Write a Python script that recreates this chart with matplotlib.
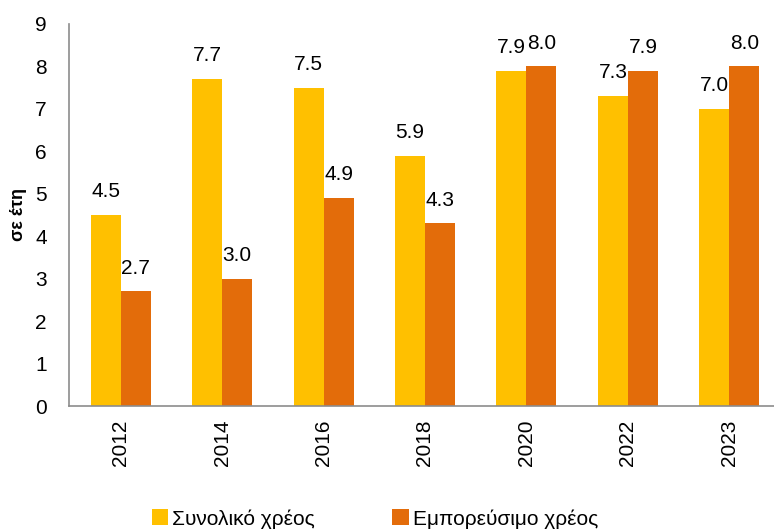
import numpy as np
import matplotlib
matplotlib.use('Agg')
import matplotlib.pyplot as plt

# --- datos ---
years = ['2012', '2014', '2016', '2018', '2020', '2022', '2023']
total_debt = [4.5, 7.7, 7.5, 5.9, 7.9, 7.3, 7.0]
marketable_debt = [2.7, 3.0, 4.9, 4.3, 8.0, 7.9, 8.0]
series_names = ['Συνολικό χρέος', 'Εμπορεύσιμο χρέος']

plt.rcParams['font.family'] = ['Liberation Sans Narrow', 'Liberation Sans', 'DejaVu Sans']

fig = plt.figure(figsize=(7.74, 5.32), dpi=100)
ax = fig.add_axes([0.089, 0.2368, 0.911, 0.7182])

x = np.arange(len(years))
w = 0.296
b1 = ax.bar(x - w / 2, total_debt, w, color='#FFC000', label=series_names[0])
b2 = ax.bar(x + w / 2, marketable_debt, w, color='#E36C0A', label=series_names[1])

for bars in (b1, b2):
    for rect in bars:
        h = rect.get_height()
        ax.annotate(f'{h:.1f}', (rect.get_x() + rect.get_width() / 2, h),
                    xytext=(0, 10), textcoords='offset points',
                    ha='center', va='bottom', fontsize=15)

ax.set_xlim(-0.51, 6.44)
ax.set_ylim(0, 9)
ax.set_yticks(range(0, 10))
ax.set_xticks(x)
ax.set_xticklabels(years, rotation=90, fontsize=15)
ax.tick_params(axis='y', labelsize=15, length=0, pad=16)
ax.tick_params(axis='x', length=0, pad=10)
ax.set_ylabel('σε έτη', fontsize=13, fontweight='bold', labelpad=6)

for s in ('top', 'right'):
    ax.spines[s].set_visible(False)
for s in ('left', 'bottom'):
    ax.spines[s].set_color('#8c8c8c')
    ax.spines[s].set_linewidth(1.2)

fig.legend(handles=[b1, b2], loc='lower center', bbox_to_anchor=(0.4845, -0.029),
           ncol=2, frameon=False, fontsize=15, handlelength=0.8, handleheight=0.8,
           handletextpad=0.2, columnspacing=3.7)

fig.savefig('out.png', dpi=100)
